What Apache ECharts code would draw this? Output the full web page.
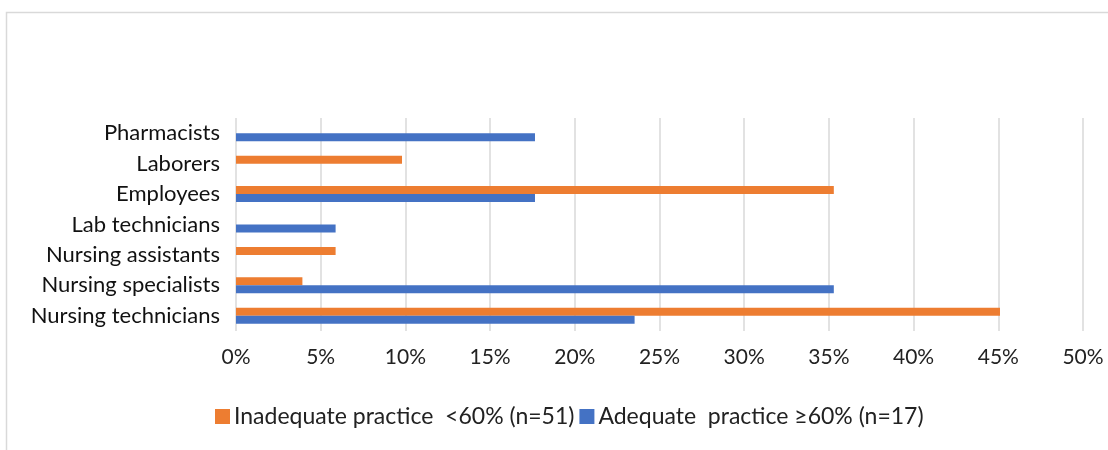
<!DOCTYPE html>
<html>
<head>
<meta charset="utf-8">
<script src="https://cdn.jsdelivr.net/npm/echarts@6/dist/echarts.min.js"></script>
<style>
html,body{margin:0;padding:0;background:#fff;}
#chart{width:1108px;height:450px;}
</style>
</head>
<body>
<div id="chart"></div>
<script>
// Categories listed top to bottom
const categories = ["Pharmacists","Laborers","Employees","Lab technicians","Nursing assistants","Nursing specialists","Nursing technicians"];
// Percent values
const inadequate = [0, 9.80, 35.29, 0, 5.88, 3.92, 45.10];
const adequate = [17.65, 0, 17.65, 5.88, 0, 35.29, 23.53];
const seriesNames = ["Inadequate practice  <60% (n=51)", "Adequate  practice \u226560% (n=17)"];
const xTicks = {min: 0, max: 50, interval: 5};

const chart = echarts.init(document.getElementById('chart'), null, {renderer: 'canvas'});
const font = "Lato, 'Open Sans', sans-serif";
chart.setOption({
  animation: false,
  backgroundColor: '#fff',
  graphic: [{
    type: 'rect', left: 4, top: 10,
    shape: {width: 1120, height: 460},
    style: {fill: 'none', stroke: '#d9d9d9', lineWidth: 1.5},
    silent: true, z: -1
  }],
  grid: {left: 236, right: 25, top: 118, bottom: 119, containLabel: false},
  legend: {
    bottom: 17, left: 210,
    itemWidth: 15, itemHeight: 15, itemGap: 5,
    icon: 'rect',
    textStyle: {fontFamily: font, fontSize: 23, color: '#222', padding: [0,0,0,-1]},
    data: seriesNames
  },
  xAxis: {
    type: 'value', min: xTicks.min, max: xTicks.max, interval: xTicks.interval,
    axisLabel: {formatter: '{value}%', fontFamily: font, fontSize: 21, color: '#222', margin: 16},
    axisLine: {show: false}, axisTick: {show: false},
    splitLine: {lineStyle: {color: '#d9d9d9', width: 1.5}}
  },
  yAxis: {
    type: 'category', data: categories, inverse: true,
    axisLabel: {fontFamily: font, fontSize: 22, color: '#111', margin: 16},
    axisLine: {show: false}, axisTick: {show: false}
  },
  series: [
    {name: seriesNames[0], type: 'bar', data: inadequate, barWidth: 8, barGap: '0%', itemStyle: {color: '#ED7D31'}},
    {name: seriesNames[1], type: 'bar', data: adequate, barWidth: 8, barGap: '0%', itemStyle: {color: '#4472C4'}}
  ]
});
</script>
</body>
</html>
